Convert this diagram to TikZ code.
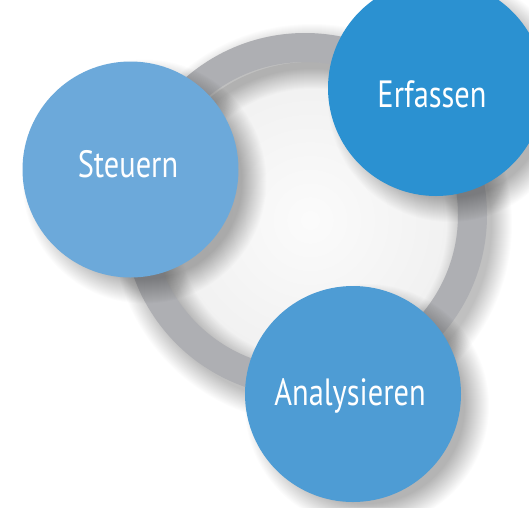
\documentclass[tikz,border=0pt]{standalone}
\usepackage{fontspec}
\newfontfamily\labfont[FakeStretch=0.8]{PT Sans}
\definecolor{ringgray}{HTML}{AEAFB3}
\definecolor{cSteuern}{HTML}{6CA9DA}
\definecolor{cErfassen}{HTML}{2B91D1}
\definecolor{cAnalyse}{HTML}{4E9CD4}
\tikzset{
  bubble/.style={circle, minimum size=216pt, inner sep=0pt, draw=none},
  lab/.style={text=white, font=\labfont\fontsize{38}{40}\selectfont, anchor=base},
}
\begin{document}
\begin{tikzpicture}[x=1pt,y=-1pt]
\useasboundingbox (0,0) rectangle (529,507);
\fill[white] (0,0) rectangle (529,507);
% inner soft background
\shade[inner color=gray!3, outer color=gray!12] (310,220) circle (158);
% ring shadow
\foreach \k in {0,...,20}{
  \draw[black, opacity=0.012, line width={25+2*(20-\k)}] (312,224) circle (167.5);
}
% ring
\coordinate (rc) at (305,215);
\draw[ringgray, line width=29pt] (rc) circle (167.5);
% circle shadows
\foreach \cx/\cy in {130.5/169.5, 436/88, 353/394}{
  \foreach \k in {0,...,24}{
    \fill[black, opacity=0.013] (\cx+14,\cy+12) circle ({98+24-\k});
  }
}
% circles
\node[bubble, fill=cSteuern] (st) at (130.5,169.5) {};
\node[bubble, fill=cErfassen] (er) at (436,88) {};
\node[bubble, fill=cAnalyse] (an) at (353,394) {};
% labels
\node[lab] (tst) at (128,177) {Steuern};
\node[lab] (ter) at (432,107) {Erfassen};
\node[lab] (tan) at (350,405) {Analysieren};
\end{tikzpicture}
\end{document}
